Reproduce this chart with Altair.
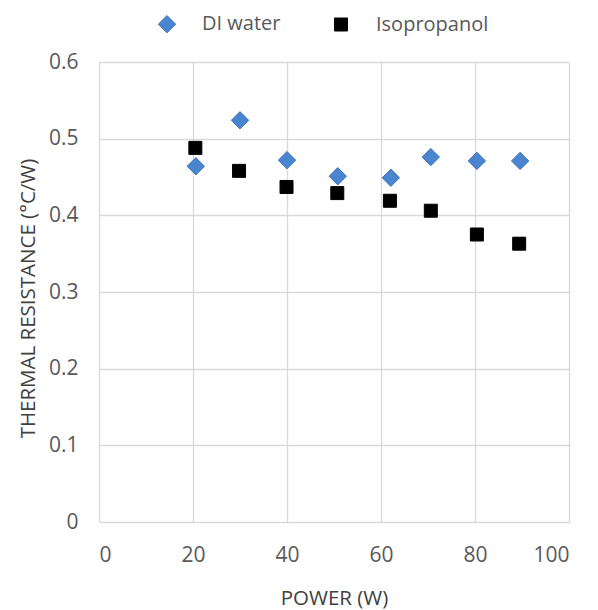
import altair as alt
import pandas as pd

power_di = [20.6, 30.0, 40.0, 50.8, 62.1, 70.6, 80.4, 89.6]
res_di = [0.464, 0.524, 0.472, 0.451, 0.449, 0.476, 0.471, 0.471]
power_ipa = [20.5, 29.8, 39.9, 50.7, 61.9, 70.6, 80.4, 89.4]
res_ipa = [0.488, 0.458, 0.437, 0.429, 0.419, 0.406, 0.375, 0.363]
series = ["DI water", "Isopropanol"]

fluid = [series[0]] * len(power_di) + [series[1]] * len(power_ipa)
df = pd.DataFrame(
    {"power": power_di + power_ipa,
     "res": res_di + res_ipa,
     "fluid": fluid,
     "marker": fluid}
)

FONT = "Open Sans"
TXT = "#595959"
GRID = "#d9d9d9"

leg = alt.Legend(title=None, orient="none", direction="horizontal",
                 legendX=58, legendY=-48, columns=2,
                 symbolSize=120, symbolStrokeWidth=1, labelOffset=25, columnPadding=50,
                 labelFontSize=20, labelFont=FONT, labelColor=TXT)

chart = alt.Chart(df).mark_point(filled=True, opacity=1, strokeWidth=1).encode(
    x=alt.X("power:Q", scale=alt.Scale(domain=[0, 100], nice=False),
            axis=alt.Axis(values=[0, 20, 40, 60, 80, 100], title="POWER (W)",
                          titleY=82, titleBaseline="alphabetic")),
    y=alt.Y("res:Q", scale=alt.Scale(domain=[0, 0.6], nice=False),
            axis=alt.Axis(values=[0, 0.1, 0.2, 0.3, 0.4, 0.5, 0.6],
                          labelExpr="datum.value == 0 ? '0' : format(datum.value, '.1f')",
                          title="THERMAL RESISTANCE (°C/W)",
                          titleX=-65, titleY=236, titleBaseline="alphabetic")),
    shape=alt.Shape("fluid:N", scale=alt.Scale(domain=series, range=["diamond", "square"]),
                    legend=leg),
    color=alt.Color("fluid:N", scale=alt.Scale(domain=series, range=["#4A86CF", "#000000"]),
                    legend=leg),
    stroke=alt.Stroke("fluid:N", scale=alt.Scale(domain=series, range=["#3F6FBF", "#000000"]),
                      legend=leg),
    size=alt.Size("marker:N", scale=alt.Scale(domain=series, range=[300, 169]), legend=None),
).properties(
    width=470, height=460,
    autosize=alt.AutoSizeParams(type="none"),
    padding={"left": 99, "top": 62, "right": 29, "bottom": 88},
).configure_view(stroke=None).configure_axis(
    grid=True, gridColor=GRID, gridWidth=1.3, domain=False, ticks=False,
    labelFont=FONT, labelFontSize=21, labelColor=TXT, labelPadding=22,
    titleFont=FONT, titleFontSize=20.5, titleColor="#404040", titleFontWeight="normal",
).configure_axisY(labelFontSize=21, labelPadding=21)

chart.save("out.html", embed_options={"renderer": "svg", "actions": False})
